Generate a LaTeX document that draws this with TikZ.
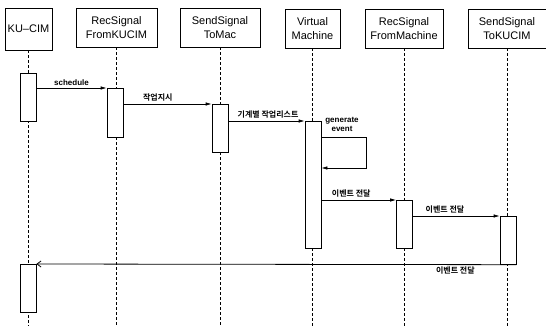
\documentclass[tikz,border=0pt]{standalone}
\usepackage{fontspec}
\setmainfont{Liberation Sans}
\newfontfamily\kr{Noto Sans CJK KR}[BoldFont={Noto Sans CJK KR Bold}]
\usetikzlibrary{arrows.meta}
\begin{document}
\begin{tikzpicture}[
  x=1pt, y=-1pt,
  seqhead/.style = {draw, thick, align=center, inner sep=0pt,
    minimum height=39pt, font=\fontsize{11}{14}\selectfont},
  seqlife/.style = {densely dashed, thin},
  seqact/.style = {draw, fill=white, line width=0.7pt, inner sep=0pt,
    minimum width=16pt, anchor=north},
  seqmsg/.style = {-{Latex[length=6pt,width=3.5pt]}, line width=0.7pt},
  seqret/.style = {-{Straight Barb[length=4pt,width=6pt]}, line width=0.8pt},
  seqlbl/.style = {font=\bfseries\fontsize{8}{9}\selectfont, inner sep=2pt},
  seqkr/.style = {font=\kr\bfseries\fontsize{8}{9}\selectfont, inner sep=2pt}
]
  \useasboundingbox (0,0) rectangle (546,326);
  \coordinate (bottom) at (0,326);
  % objects
  \node[seqhead, minimum width=47pt, minimum height=42pt] (kucim) at (28.5,29) {KU--CIM};
  \node[seqhead, minimum width=81pt] (recku) at (116.5,27.5) {RecSignal\\FromKUCIM};
  \node[seqhead, minimum width=80pt] (sendmac) at (220,27.5) {SendSignal\\ToMac};
  \node[seqhead, minimum width=55pt] (vm) at (312.5,28.5) {Virtual\\Machine};
  \node[seqhead, minimum width=78pt] (recmac) at (404,28.5) {RecSignal\\FromMachine};
  \node[seqhead, minimum width=78pt] (sendku) at (507,28.5) {SendSignal\\ToKUCIM};
  % lifelines
  \foreach \obj in {kucim, recku, sendmac, vm, recmac, sendku}
    \draw[seqlife] (\obj.south) -- (\obj.south |- bottom);
  % activations
  \node[seqact, minimum height=48pt] (act1) at (28,73) {};
  \node[seqact, minimum height=49pt] (act2) at (115,88) {};
  \node[seqact, minimum height=48pt] (act3) at (220,104) {};
  \node[seqact, minimum height=127pt] (act4) at (313,121) {};
  \node[seqact, minimum height=48pt] (act5) at (404.5,200) {};
  \node[seqact, minimum height=48pt] (act6) at (508,216) {};
  \node[seqact, minimum height=48pt] (act7) at (28,264) {};
  % messages
  \draw[seqmsg] (act1.east |- act2.north) -- (act2.north west)
    node[seqlbl, midway, above] {schedule};
  \draw[seqmsg] (act2.east |- act3.north) -- (act3.north west)
    node[seqkr, pos=0.39, above] {작업지시};
  \draw[seqmsg] (act3.east |- act4.north) -- (act4.north west)
    node[seqkr, pos=0.52, above] {기계별 작업리스트};
  % self call
  \coordinate (loopa) at (366,137);
  \coordinate (loopb) at (366,168);
  \draw[seqmsg] (act4.east |- loopa) -- (loopa) -- (loopb) -- (act4.east |- loopb);
  \node[seqlbl, align=center, font=\bfseries\fontsize{8}{9}\selectfont] (genlbl) at (342,124) {generate\\event};
  \draw[seqmsg] (act4.east |- act5.north) -- (act5.north west)
    node[seqkr, pos=0.4, above] {이벤트 전달};
  \draw[seqmsg] (act5.east |- act6.north) -- (act6.north west)
    node[seqkr, pos=0.37, above] {이벤트 전달};
  \draw[seqret] (act6.south east) -- (act7.north east)
    node[seqkr, pos=0.127, below] {이벤트 전달};
\end{tikzpicture}
\end{document}
